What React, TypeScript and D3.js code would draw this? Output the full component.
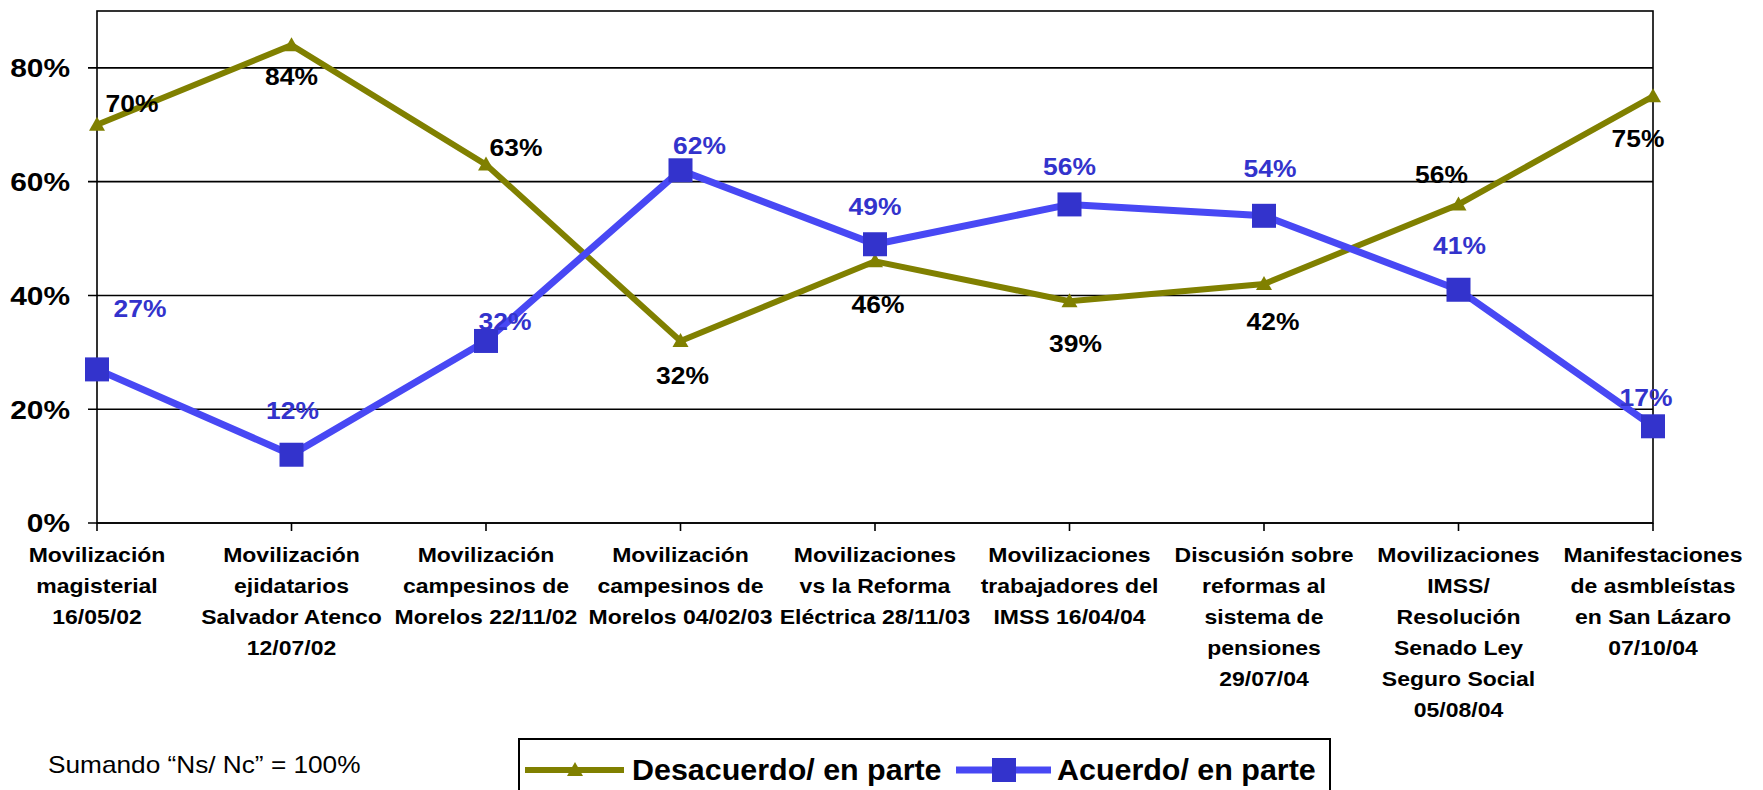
import React from "react";
import * as d3 from "d3";

const categories: string[][] = [
  ["Movilización", "magisterial", "16/05/02"],
  ["Movilización", "ejidatarios", "Salvador Atenco", "12/07/02"],
  ["Movilización", "campesinos de", "Morelos 22/11/02"],
  ["Movilización", "campesinos de", "Morelos 04/02/03"],
  ["Movilizaciones", "vs la Reforma", "Eléctrica 28/11/03"],
  ["Movilizaciones", "trabajadores del", "IMSS 16/04/04"],
  ["Discusión sobre", "reformas al", "sistema de", "pensiones", "29/07/04"],
  ["Movilizaciones", "IMSS/", "Resolución", "Senado Ley", "Seguro Social", "05/08/04"],
  ["Manifestaciones", "de asmbleístas", "en San Lázaro", "07/10/04"],
];
const desacuerdo = [70, 84, 63, 32, 46, 39, 42, 56, 75];
const acuerdo = [27, 12, 32, 62, 49, 56, 54, 41, 17];
const yTicks = [0, 20, 40, 60, 80];
const seriesNames = ["Desacuerdo/ en parte", "Acuerdo/ en parte"];
const note = "Sumando “Ns/ Nc” = 100%";

// label offsets (px) relative to each point
const desLabelOffsets = [[35, -21], [0, 31], [30, -17], [2, 34], [3, 43], [6, 42], [9, 37], [-17, -30], [-15, 42]];
const acuLabelOffsets = [[43, -61], [1, -44], [19, -20], [19, -25], [0, -38], [0, -38], [6, -47], [1, -44], [-7, -29]];

const W = 1763, H = 790;
const L = 97, R = 1653, T = 11, B = 523;
const OLIVE = "#808000";
const BLUE_LINE = "#4848f4";
const BLUE_MARK = "#3333cc";
const FONT = "Liberation Sans, Arial, sans-serif";

function SText(props: {
  x: number; y: number; sx: number; size: number; anchor?: string; bold?: boolean; fill?: string;
  children?: React.ReactNode;
}) {
  const { x, y, sx, size, anchor = "start", bold = true, fill = "#000", children } = props;
  return (
    <g transform={`translate(${x},${y}) scale(${sx},1)`}>
      <text x={0} y={0} dy="0.36em" textAnchor={anchor as any} fontSize={size}
        fontWeight={bold ? "bold" : "normal"} fill={fill}>
        {children}
      </text>
    </g>
  );
}

export default function App() {
  const keys = categories.map((_, i) => String(i));
  const x = d3.scalePoint<string>().domain(keys).range([L, R]);
  const y = d3.scaleLinear().domain([0, 90]).range([B, T]);
  const line = d3.line<number>().x((_, i) => x(String(i))!).y((d) => y(d));

  const tri = (cx: number, cy: number, s = 8) =>
    `M${cx},${cy - s} L${cx + s},${cy + s * 0.75} L${cx - s},${cy + s * 0.75} Z`;

  return (
    <div style={{ position: "absolute", left: 0, top: 0 }}>
      <svg width={W} height={H} style={{ display: "block", background: "#fff" }} fontFamily={FONT}>
        {/* gridlines */}
        {yTicks.map((t) => (
          <g key={t}>
            <line x1={L - 9} x2={R} y1={y(t)} y2={y(t)} stroke="#000" strokeWidth={1.6} />
            <SText x={70} y={y(t)} sx={1.15} size={26} anchor="end">{t}%</SText>
          </g>
        ))}
        {/* plot border */}
        <rect x={L} y={T} width={R - L} height={B - T} fill="none" stroke="#000" strokeWidth={1.6} />
        {/* x ticks and labels */}
        {categories.map((lines, i) => (
          <g key={i}>
            <line x1={x(String(i))} x2={x(String(i))} y1={B} y2={B + 8} stroke="#000" strokeWidth={1.6} />
            {lines.map((s, j) => (
              <SText key={j} x={x(String(i))!} y={555 + j * 31} sx={1.15} size={20} anchor="middle">{s}</SText>
            ))}
          </g>
        ))}
        {/* series lines */}
        <path d={line(desacuerdo)!} fill="none" stroke={OLIVE} strokeWidth={6} />
        <path d={line(acuerdo)!} fill="none" stroke={BLUE_LINE} strokeWidth={7} />
        {desacuerdo.map((v, i) => (
          <path key={"dt" + i} d={tri(x(String(i))!, y(v))} fill={OLIVE} />
        ))}
        {acuerdo.map((v, i) => (
          <rect key={"ar" + i} x={x(String(i))! - 12} y={y(v) - 12} width={24} height={24} fill={BLUE_MARK} />
        ))}
        {/* data labels */}
        {desacuerdo.map((v, i) => (
          <SText key={"dl" + i} x={x(String(i))! + desLabelOffsets[i][0]} y={y(v) + desLabelOffsets[i][1]}
            sx={1.1} size={24} anchor="middle">{v}%</SText>
        ))}
        {acuerdo.map((v, i) => (
          <SText key={"al" + i} x={x(String(i))! + acuLabelOffsets[i][0]} y={y(v) + acuLabelOffsets[i][1]}
            sx={1.1} size={24} anchor="middle" fill={BLUE_MARK}>{v}%</SText>
        ))}
        {/* note */}
        <SText x={48} y={765} sx={1.14} size={23} bold={false}>{note}</SText>
        {/* legend */}
        <rect x={519} y={739} width={811} height={70} fill="#fff" stroke="#000" strokeWidth={2} />
        <line x1={525} x2={624} y1={770} y2={770} stroke={OLIVE} strokeWidth={6} />
        <path d={tri(575, 770)} fill={OLIVE} />
        <SText x={632} y={770} sx={1.05} size={29}>{seriesNames[0]}</SText>
        <line x1={956} x2={1051} y1={770} y2={770} stroke={BLUE_LINE} strokeWidth={7} />
        <rect x={992} y={758} width={24} height={24} fill={BLUE_MARK} />
        <SText x={1057} y={770} sx={1.05} size={29}>{seriesNames[1]}</SText>
      </svg>
    </div>
  );
}
